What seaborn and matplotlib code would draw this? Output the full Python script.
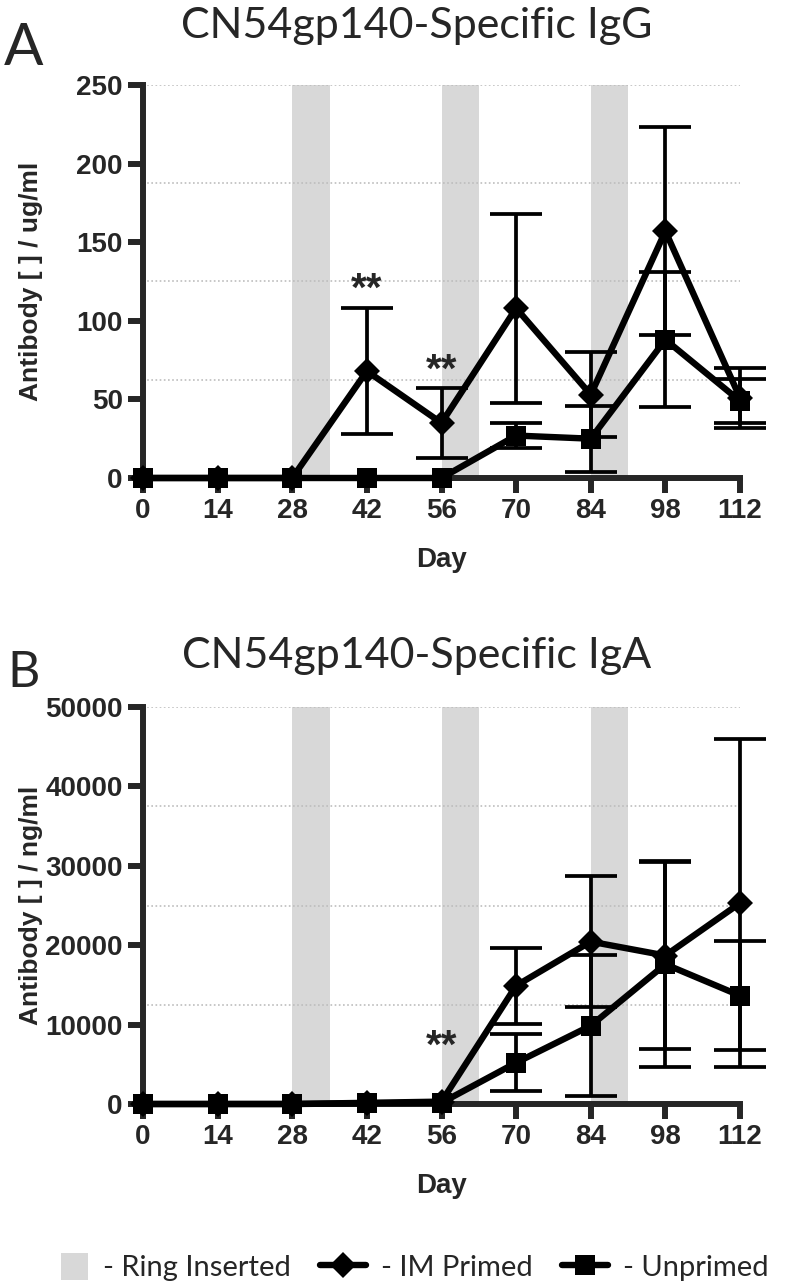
import numpy as np
import pandas as pd
import seaborn as sns
import matplotlib
matplotlib.use("Agg")
import matplotlib.pyplot as plt
from matplotlib.lines import Line2D
from matplotlib.patches import Patch, Rectangle
from matplotlib.legend_handler import HandlerPatch
from matplotlib.ticker import MultipleLocator

# Data
days = [0, 14, 28, 42, 56, 70, 84, 98, 112]
ring_periods = [(28, 35), (56, 63), (84, 91)]

igg_im_mean = [0, 0, 0, 68, 35, 108, 53, 157, 51]
igg_im_sd = [0, 0, 0, 40, 22, 60, 27, 66, 19]
igg_un_mean = [0, 0, 0, 0, 0, 27, 25, 88, 49]
igg_un_sd = [0, 0, 0, 0, 0, 8, 21, 43, 14]

iga_im_mean = [0, 0, 0, 150, 300, 14900, 20450, 18700, 25300]
iga_im_sd = [0, 0, 0, 0, 0, 4800, 8250, 11800, 20700]
iga_un_mean = [0, 0, 0, 80, 150, 5200, 9860, 17600, 13650]
iga_un_sd = [0, 0, 0, 0, 0, 3600, 8900, 13000, 6850]

igg_star_days = [42, 56]
igg_star_y = [113, 61]
iga_star_days = [56]
iga_star_y = [5800]

RING_GREY = "#d8d8d8"
W, H = 793, 1287

sns.set_style("ticks")
plt.rcParams["font.family"] = ["Liberation Sans", "DejaVu Sans"]
plt.rcParams["font.weight"] = "bold"
plt.rcParams["axes.labelweight"] = "bold"


def draw_panel(ax, im_mean, im_sd, un_mean, un_sd, ymax, ystep, ylabel,
               star_days, star_y):

    # ring insertion periods
    for start, end in ring_periods:
        ax.axvspan(start, end, color=RING_GREY, lw=0, zorder=0)

    im = pd.DataFrame({"day": days, "mean": im_mean, "sd": im_sd})
    un = pd.DataFrame({"day": days, "mean": un_mean, "sd": un_sd})

    for df in [im, un]:
        err = df[df["sd"] > 0]
        ax.errorbar(
            err["day"], err["mean"], yerr=err["sd"],
            fmt="none", ecolor="black", elinewidth=2.7,
            capsize=19, capthick=2.7, clip_on=False, zorder=2
        )

    sns.lineplot(
        data=im, x="day", y="mean", ax=ax,
        color="black", linewidth=4.6,
        marker="D", markersize=13, markeredgewidth=0,
        errorbar=None, zorder=3
    )
    sns.lineplot(
        data=un, x="day", y="mean", ax=ax,
        color="black", linewidth=4.6,
        marker="s", markersize=14, markeredgewidth=0,
        errorbar=None, zorder=4
    )

    for line in ax.lines:
        line.set_clip_on(False)

    for d, y in zip(star_days, star_y):
        ax.text(d, y, "**", ha="center", va="baseline",
                fontsize=29, fontweight="bold")

    ax.set_xlim(0, 112)
    ax.set_ylim(0, ymax)
    ax.set_xticks(days)
    ax.set_yticks(np.arange(0, ymax + 1, ystep))

    # dotted grid at quarter intervals
    ax.yaxis.set_minor_locator(MultipleLocator(ymax / 4))
    ax.yaxis.remove_overlapping_locs = False
    ax.grid(which="minor", axis="y", color="#bdbdbd",
            linestyle=(0, (1, 1.5)), linewidth=1.2)
    ax.grid(which="major", visible=False)
    ax.tick_params(which="minor", length=0)
    ax.tick_params(which="major", width=4.3, length=10.5,
                   labelsize=20, pad=4)

    sns.despine(ax=ax)
    for side in ["left", "bottom"]:
        ax.spines[side].set_linewidth(4.3)

    ax.set_xlabel("Day", fontsize=20, fontweight="bold")
    ax.set_ylabel(ylabel, fontsize=19, fontweight="bold")
    ax.xaxis.set_label_coords(0.5, -0.175)
    ax.yaxis.set_label_coords(-0.168, 0.5)


fig = plt.figure(figsize=(W / 100, H / 100), dpi=100)

ax_top = fig.add_axes([143 / W, 1 - 478 / H, 597 / W, 393 / H])
ax_bot = fig.add_axes([143 / W, 1 - 1104 / H, 597 / W, 397 / H])

draw_panel(ax_top, igg_im_mean, igg_im_sd, igg_un_mean, igg_un_sd,
           250, 50, "Antibody [ ] / ug/ml", igg_star_days, igg_star_y)
draw_panel(ax_bot, iga_im_mean, iga_im_sd, iga_un_mean, iga_un_sd,
           50000, 10000, "Antibody [ ] / ng/ml", iga_star_days, iga_star_y)

title_font = dict(family=["Lato", "DejaVu Sans"], weight="normal")

fig.text(417 / W, 1 - 38 / H, "CN54gp140-Specific IgG",
         ha="center", va="baseline", fontsize=31, **title_font)
fig.text(417 / W, 1 - 668 / H, "CN54gp140-Specific IgA",
         ha="center", va="baseline", fontsize=31, **title_font)

fig.text(4 / W, 1 - 65 / H, "A", ha="left", va="baseline",
         fontsize=42, **title_font)
fig.text(7 / W, 1 - 687 / H, "B", ha="left", va="baseline",
         fontsize=36, **title_font)


# legend
def square_patch(legend, orig_handle, xdescent, ydescent,
                 width, height, fontsize):
    return Rectangle((-xdescent + width - height, -ydescent),
                     height, height)


handles = [
    Patch(facecolor=RING_GREY, edgecolor="none"),
    Line2D([], [], color="black", lw=4.6, marker="D",
           markersize=13, markeredgewidth=0),
    Line2D([], [], color="black", lw=4.6, marker="s",
           markersize=14, markeredgewidth=0),
]
labels = ["- Ring Inserted", "- IM Primed", "- Unprimed"]

fig.legend(
    handles=handles, labels=labels,
    loc="center", bbox_to_anchor=(405 / W, 1 - 1267 / H),
    ncol=3, frameon=False,
    prop=dict(family=["Lato", "DejaVu Sans"], weight="normal", size=21),
    handlelength=1.6, handleheight=1.05,
    handletextpad=0.5, columnspacing=1.0,
    handler_map={Patch: HandlerPatch(patch_func=square_patch)}
)

fig.savefig("out.png", dpi=100)
